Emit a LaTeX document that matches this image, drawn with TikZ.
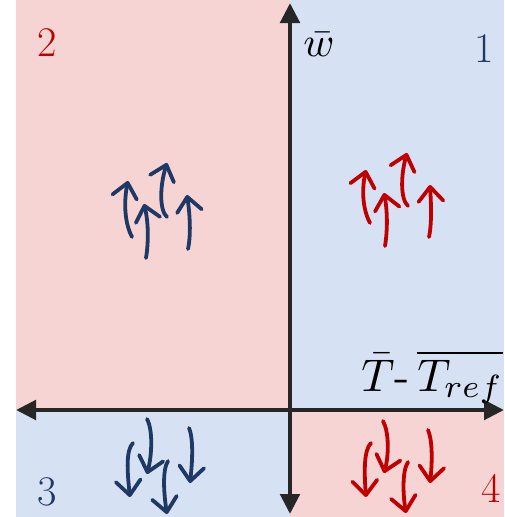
\documentclass[tikz,border=0pt]{standalone}
\usepackage{graphicx}
\usepackage{tikz}
\usetikzlibrary{positioning, arrows.meta}
\usepackage{amsmath}
\definecolor{quadpink}{RGB}{246,212,212}
\definecolor{quadblue}{RGB}{214,226,244}
\definecolor{darkblue}{RGB}{31,56,100}
\definecolor{darkred}{RGB}{192,0,0}
\definecolor{axisgray}{RGB}{38,38,38}

\begin{document}
\begin{tikzpicture}[x=0.025cm, y=-0.025cm,
axis/.style={{Triangle[length=5mm,width=4.8mm]}-{Triangle[length=5mm,width=4.8mm]}, line width=3.2pt, axisgray},
flow/.style={-{Straight Barb[length=3.6mm,width=6.2mm,round]}, line width=2.7pt, line cap=round},
num/.style={font=\fontsize{30}{36}\selectfont, anchor=base},
lbl/.style={anchor=base west, inner sep=0pt}
]
\useasboundingbox (0,0) rectangle (504,517);

% Quadrants
\fill[quadpink] (16,0) rectangle (290,410);
\fill[quadblue] (290,0) rectangle (504,410);
\fill[quadblue] (16,410) rectangle (290,517);
\fill[quadpink] (290,410) rectangle (504,517);

% Axes
\coordinate (top) at (290,3);
\coordinate (bottom) at (290,514);
\coordinate (left) at (16,410);
\coordinate (right) at (504,410);
\draw[axis] (bottom) -- (top);
\draw[axis] (left) -- (right);

\node[lbl] (wlbl) at (303,57) {\resizebox{0.78cm}{!}{$\bar{w}$}};
\node[lbl] (tlbl) at (361,391) {\resizebox{3.55cm}{!}{$\bar{T}$-$\,\overline{T_{ref}}$}};

% Quadrant numbers
\node[num, text=darkblue] (q1) at (484,63) {1};
\node[num, text=darkred] (q2) at (47,57) {2};
\node[num, text=darkblue] (q3) at (47,505) {3};
\node[num, text=darkred] (q4) at (491,502) {4};

% Quadrant 2: rising
\draw[flow, darkblue] (132,237) .. controls (124,222) and (124,200) .. (128,181);
\draw[flow, darkblue] (146,258) .. controls (149,240) and (148,220) .. (144,204);
\draw[flow, darkblue] (167,217) .. controls (159,210) and (160,185) .. (167,163);
\draw[flow, darkblue] (188,249) .. controls (191,235) and (190,215) .. (187,195);

% Quadrant 1: rising
\draw[flow, darkred] (370,223) .. controls (362,208) and (362,188) .. (366,170);
\draw[flow, darkred] (385,246) .. controls (388,228) and (387,208) .. (384,193);
\draw[flow, darkred] (408,206) .. controls (400,199) and (401,174) .. (407,153);
\draw[flow, darkred] (429,237) .. controls (432,223) and (431,203) .. (430,185);

% Quadrant 3: sinking
\draw[flow, darkblue] (133,443) .. controls (126,450) and (127,470) .. (130,497);
\draw[flow, darkblue] (147,419) .. controls (153,430) and (152,455) .. (147,474);
\draw[flow, darkblue] (168,461) .. controls (162,470) and (164,495) .. (167,514);
\draw[flow, darkblue] (189,428) .. controls (194,440) and (192,465) .. (190,483);

% Quadrant 4: sinking
\draw[flow, darkred] (371,443) .. controls (364,450) and (364,470) .. (366,497);
\draw[flow, darkred] (383,421) .. controls (389,432) and (389,455) .. (384,473);
\draw[flow, darkred] (408,462) .. controls (402,471) and (403,495) .. (406,513);
\draw[flow, darkred] (428,430) .. controls (433,442) and (432,465) .. (430,483);

\end{tikzpicture}
\end{document}
